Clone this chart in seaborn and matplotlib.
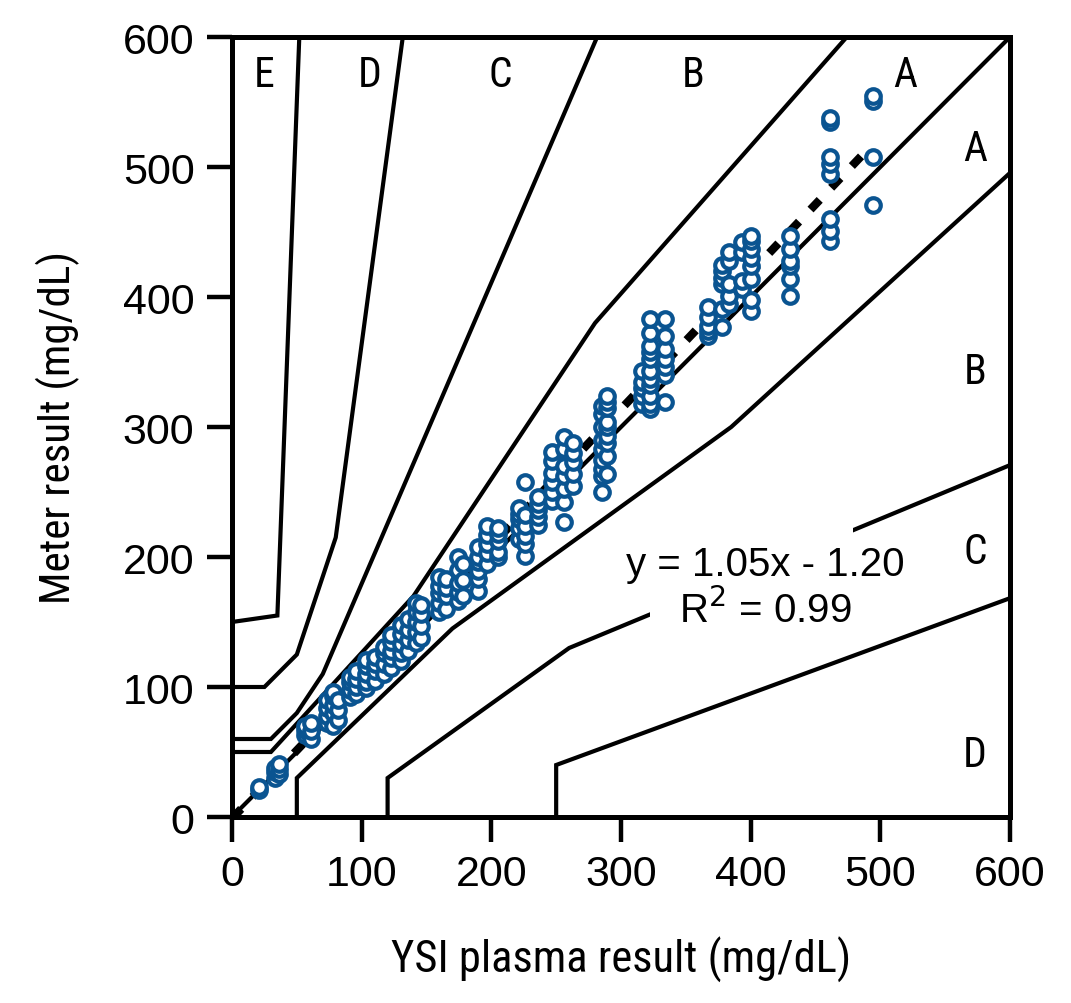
import numpy as np
import pandas as pd
import matplotlib
matplotlib.use("Agg")
import matplotlib.pyplot as plt
import seaborn as sns
from matplotlib import font_manager
from matplotlib.patches import Rectangle

# ---------------- data ----------------
ysi_levels = [21, 33, 36, 56, 61, 73, 78, 82, 91, 96, 103, 110, 117, 123, 130,
              136, 142, 146, 160, 165, 174, 178, 190, 197, 205, 221, 226, 236,
              247, 256, 263, 285, 289, 316, 322, 334, 367, 378, 383, 393, 400,
              430, 461, 494]
meter_by_level = [
    [21, 23], [30, 35, 38], [33, 37, 41], [63, 67, 70], [60, 66, 72],
    [72, 78, 84, 90], [70, 80, 86, 93, 96], [75, 82, 90], [92, 98, 104, 108],
    [95, 100, 106, 112], [99, 104, 110, 116, 121], [105, 112, 118, 123],
    [110, 118, 126, 131], [115, 122, 128, 135, 140], [120, 126, 133, 141, 148],
    [128, 136, 144, 152], [134, 142, 150, 158, 165], [138, 147, 156, 163],
    [158, 165, 172, 178, 185], [160, 170, 176, 183], [166, 173, 180, 190, 200],
    [170, 182, 195], [174, 183, 189, 196, 200, 208], [195, 203, 210, 217, 224],
    [200, 204, 212, 218, 222], [214, 222, 229, 233, 238],
    [201, 210, 216, 224, 232, 258], [225, 231, 236, 241, 246],
    [243, 250, 258, 265, 274, 281], [227, 242, 252, 262, 270, 283, 292],
    [255, 264, 273, 280, 288],
    [250, 262, 268, 275, 283, 290, 300, 310, 316],
    [264, 278, 288, 293, 300, 304, 315, 319, 324],
    [318, 324, 330, 335, 343],
    [314, 318, 324, 332, 337, 343, 352, 358, 362, 372, 383],
    [319, 340, 346, 352, 360, 370, 383],
    [370, 374, 378, 385, 392], [377, 391, 410, 415, 420, 425],
    [395, 401, 410, 428, 435], [406, 412, 435, 442],
    [389, 398, 414, 424, 430, 437, 443, 447],
    [401, 414, 424, 428, 437, 447],
    [443, 451, 460, 495, 502, 508, 535, 538],
    [471, 508, 551, 555],
]

# Parkes (consensus) error grid, type 1 boundaries
a_upper_x = [0, 30, 140, 280, 430]
a_upper_y = [50, 50, 170, 380, 550]
a_lower_x = [50, 50, 170, 385, 550]
a_lower_y = [0, 30, 145, 300, 450]
b_upper_x = [0, 30, 50, 70, 260]
b_upper_y = [60, 60, 80, 110, 550]
b_lower_x = [120, 120, 260, 550]
b_lower_y = [0, 30, 130, 250]
c_upper_x = [0, 25, 50, 80, 125]
c_upper_y = [100, 100, 125, 215, 550]
c_lower_x = [250, 250, 550]
c_lower_y = [0, 40, 150]
d_upper_x = [0, 35, 50]
d_upper_y = [150, 155, 550]

reg_slope, reg_intercept = 1.05, -1.20
reg_x_range = [0, 492]

zone_labels = ["E", "D", "C", "B", "A", "A", "B", "C", "D"]
zone_label_x = [25, 106, 207, 356, 519, 573, 573, 573, 573]
zone_label_y = [571, 571, 571, 571, 571, 514, 343, 204, 48]

tick_values = [0, 100, 200, 300, 400, 500, 600]

# ---------------- style ----------------
sns.set_theme(style="white")
fl = font_manager.fontManager.ttflist
names = {f.name for f in fl}
chosen = None
for p in ["Roboto Condensed", "Liberation Sans Narrow", "Archivo Narrow",
          "Asap Condensed"]:
    if p in names:
        chosen = p
        break
if chosen:
    cond = dict(family=[chosen, "DejaVu Sans"])
else:
    cond = dict(family=["DejaVu Sans"], stretch="condensed")

plt.rcParams["font.family"] = ["Liberation Sans", "DejaVu Sans"]
for k in ["text.color", "axes.labelcolor", "xtick.color", "ytick.color",
          "axes.edgecolor"]:
    plt.rcParams[k] = "black"

fig = plt.figure(figsize=(10.71, 10.04), dpi=100)
ax = fig.add_axes([232 / 1071, 1 - 818 / 1004, 778 / 1071, 780 / 1004])

LIM = 600


def extend(xs, ys):
    xs, ys = list(xs), list(ys)
    dx, dy = xs[-1] - xs[-2], ys[-1] - ys[-2]
    tx = (LIM - xs[-1]) / dx if dx else np.inf
    ty = (LIM - ys[-1]) / dy if dy else np.inf
    t = min(tx, ty)
    xs.append(xs[-1] + dx * t)
    ys.append(ys[-1] + dy * t)
    return xs, ys


grid_lw = 3.0
for xs, ys in [(a_upper_x, a_upper_y), (a_lower_x, a_lower_y),
               (b_upper_x, b_upper_y), (b_lower_x, b_lower_y),
               (c_upper_x, c_upper_y), (c_lower_x, c_lower_y),
               (d_upper_x, d_upper_y)]:
    ex, ey = extend(xs, ys)
    ax.plot(ex, ey, color="black", lw=grid_lw, zorder=2, solid_joinstyle="miter")
ax.plot([0, LIM], [0, LIM], color="black", lw=grid_lw, zorder=2)

# white box behind the equation
ax.add_patch(Rectangle((322, 148), 157, 80, facecolor="white",
                       edgecolor="none", zorder=3))
ax.text(411, 195, "y = 1.05x - 1.20", ha="center", va="center",
        fontsize=29, color="black", zorder=4)
ax.text(411, 160, "R$^2$ = 0.99", ha="center", va="center",
        fontsize=29, color="black", zorder=4)

# regression line
rx = np.array(reg_x_range, dtype=float)
ax.plot(rx, reg_slope * rx + reg_intercept, color="black", lw=6,
        dashes=(1.6, 2.0), dash_capstyle="butt", zorder=5)

# points
ysi_all, meter_all = [], []
for xv, ys in zip(ysi_levels, meter_by_level):
    ysi_all += [xv] * len(ys)
    meter_all += ys
df = pd.DataFrame({"ysi": ysi_all, "meter": meter_all})
sns.scatterplot(data=df, x="ysi", y="meter", ax=ax, marker="o", s=110,
                facecolor="white", edgecolor="#0a5491", linewidth=3.0,
                zorder=6, legend=False)

for lab, lx, ly in zip(zone_labels, zone_label_x, zone_label_y):
    ax.text(lx, ly, lab, ha="center", va="center", fontsize=30, zorder=4, **cond)

ax.set_xlim(0, LIM)
ax.set_ylim(0, LIM)
ax.set_xticks(tick_values)
ax.set_yticks(tick_values)
ax.tick_params(axis="both", which="major", direction="out", length=18,
               width=3.2, labelsize=31, pad=9, color="black",
               bottom=True, left=True, top=False, right=False)
for sp in ax.spines.values():
    sp.set_linewidth(3.6)
    sp.set_color("black")

ax.set_xlabel("YSI plasma result (mg/dL)", fontsize=32, **cond)
ax.set_ylabel("Meter result (mg/dL)", fontsize=31, **cond)
ax.xaxis.set_label_coords(0.5, -0.152)
ax.yaxis.set_label_coords(-0.196, 0.5)

fig.savefig("out.png", dpi=100, facecolor="white")
